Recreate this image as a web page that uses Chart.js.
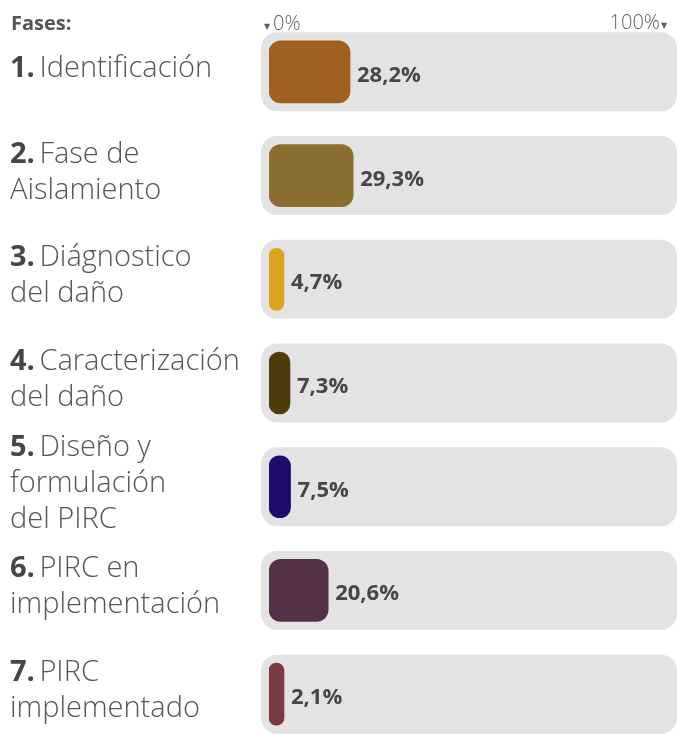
<!DOCTYPE html>
<html lang="es">
<head>
<meta charset="utf-8">
<title>Fases</title>
<script src="https://cdn.jsdelivr.net/npm/chart.js@4/dist/chart.umd.min.js"></script>
<style>
  html, body { margin: 0; padding: 0; background: #ffffff; overflow: hidden; }
  #wrap { width: 678px; height: 746px; }
</style>
</head>
<body>
<div id="wrap"><canvas id="fases" width="678" height="746"></canvas></div>
<script>
// Phase names, each split into the lines it is shown on
const phaseLines = [
  ["Identificación"],
  ["Fase de", "Aislamiento"],
  ["Diágnostico", "del daño"],
  ["Caracterización", "del daño"],
  ["Diseño y", "formulación", "del PIRC"],
  ["PIRC en", "implementación"],
  ["PIRC", "implementado"]
];
const phaseNumbers = ["1.", "2.", "3.", "4.", "5.", "6.", "7."];
// Share of cases in each phase (%)
const shares = [28.2, 29.3, 4.7, 7.3, 7.5, 20.6, 2.1];
const barColors = ["#A0601F", "#8A6E32", "#D9A520", "#4E3C0C", "#1F0B6B", "#553049", "#7A3A3F"];
const axisStartLabel = "0%";
const axisEndLabel = "100%";
const headerLabel = "Fases:";

const FONT = "'Open Sans', Lato, sans-serif";

function roundRectPath(ctx, x, y, w, h, r) {
  r = Math.min(r, w / 2, h / 2);
  ctx.beginPath();
  ctx.moveTo(x + r, y);
  ctx.lineTo(x + w - r, y);
  ctx.arcTo(x + w, y, x + w, y + r, r);
  ctx.lineTo(x + w, y + h - r);
  ctx.arcTo(x + w, y + h, x + w - r, y + h, r);
  ctx.lineTo(x + r, y + h);
  ctx.arcTo(x, y + h, x, y + h - r, r);
  ctx.lineTo(x, y + r);
  ctx.arcTo(x, y, x + r, y, r);
  ctx.closePath();
}

// Grey tracks behind each bar, phase names on the left and the header row
const decorations = {
  id: "decorations",
  beforeDatasetsDraw(chart) {
    const { ctx, chartArea, scales } = chart;
    ctx.save();
    ctx.fillStyle = "#E3E3E3";
    phaseLines.forEach((_, i) => {
      const y = scales.y.getPixelForValue(i);
      roundRectPath(ctx, chartArea.left - 8, y - 39.5, chartArea.right - chartArea.left + 8, 79, 16);
      ctx.fill();
    });

    // phase names
    ctx.textBaseline = "alphabetic";
    ctx.textAlign = "left";
    const lineH = 36;
    phaseLines.forEach((lines, i) => {
      const base = scales.y.getPixelForValue(i) + 5;
      lines.forEach((line, j) => {
        let x = 10;
        const y = base + (j - (lines.length - 1) / 2) * lineH;
        if (j === 0) {
          ctx.font = "bold 29px " + FONT;
          ctx.fillStyle = "#464646";
          ctx.fillText(phaseNumbers[i], x, y);
          x += ctx.measureText(phaseNumbers[i] + " ").width - 3;
        }
        ctx.font = "300 29px " + FONT;
        ctx.fillStyle = "#555555";
        ctx.fillText(line, x, y);
      });
    });

    // header row
    ctx.fillStyle = "#555555";
    ctx.font = "bold 20px " + FONT;
    ctx.fillText(headerLabel, 11, 30);
    ctx.fillStyle = "#5e5e5e";
    ctx.font = "8px 'DejaVu Sans'";
    ctx.fillText("\u25BC", 264, 29);
    ctx.font = "300 20px " + FONT;
    ctx.fillText(axisStartLabel, 273, 30);
    ctx.textAlign = "right";
    ctx.fillText(axisEndLabel, 660, 29);
    ctx.font = "8px 'DejaVu Sans'";
    ctx.textAlign = "left";
    ctx.fillText("\u25BC", 661, 28);
    ctx.restore();
  },
  afterDatasetsDraw(chart) {
    const { ctx } = chart;
    const meta = chart.getDatasetMeta(0);
    ctx.save();
    ctx.font = "bold 22px " + FONT;
    ctx.fillStyle = "#474747";
    ctx.textBaseline = "alphabetic";
    ctx.textAlign = "left";
    meta.data.forEach((bar, i) => {
      ctx.fillText(shares[i].toFixed(1).replace(".", ",") + "%", bar.x + 7, bar.y + 10);
    });
    ctx.restore();
  }
};

new Chart(document.getElementById("fases"), {
  type: "bar",
  data: {
    labels: phaseLines.map(l => l.join(" ")),
    datasets: [{
      data: shares,
      backgroundColor: barColors,
      borderRadius: 12,
      borderSkipped: false,
      barThickness: 62,
      minBarLength: 15
    }]
  },
  options: {
    indexAxis: "y",
    responsive: false,
    animation: false,
    layout: { padding: { left: 269, right: 1, top: 20, bottom: 0 } },
    plugins: { legend: { display: false }, tooltip: { enabled: false } },
    scales: {
      x: { min: 0, max: 142, display: false },
      y: { display: false, offset: true }
    }
  },
  plugins: [decorations]
});
</script>
</body>
</html>
